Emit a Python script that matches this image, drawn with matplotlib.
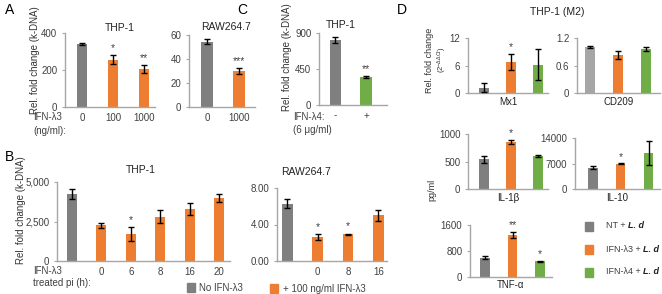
import matplotlib
matplotlib.use('Agg')
import matplotlib.pyplot as plt

plt.rcParams['font.family'] = ['Liberation Sans', 'DejaVu Sans']
plt.rcParams['font.size'] = 7
plt.rcParams['mathtext.fontset'] = 'custom'
plt.rcParams['mathtext.rm'] = 'Liberation Sans'
plt.rcParams['mathtext.it'] = 'Liberation Sans:italic'

GRAY = '#7f7f7f'
LGRAY = '#a6a6a6'
ORANGE = '#ed7d31'
GREEN = '#70ad47'
TXT = '#404040'

# ---- data ----
# A
a_thp_labels = ['0', '100', '1000']
a_thp_vals = [340, 255, 205]
a_thp_err = [4, 25, 20]
a_thp_sig = ['', '*', '**']

a_raw_labels = ['0', '1000']
a_raw_vals = [54.5, 30]
a_raw_err = [2, 2.5]
a_raw_sig = ['', '***']

# C
c_labels = ['-', '+']
c_vals = [810, 350]
c_err = [40, 15]
c_sig = ['', '**']

# B
b_thp_labels = ['', '0', '6', '8', '16', '20']
b_thp_vals = [4250, 2250, 1700, 2800, 3300, 4000]
b_thp_err = [300, 150, 450, 400, 400, 250]
b_thp_sig = ['', '', '*', '', '', '']

b_raw_labels = ['', '0', '8', '16']
b_raw_vals = [6.3, 2.65, 2.95, 5.0]
b_raw_err = [0.5, 0.3, 0.05, 0.6]
b_raw_sig = ['', '*', '*', '']

# D
mx1_vals = [1.2, 6.8, 6.2]
mx1_err = [1.0, 1.8, 3.3]
mx1_sig = ['', '*', '']

cd209_vals = [1.0, 0.83, 0.96]
cd209_err = [0.02, 0.08, 0.05]
cd209_sig = ['', '', '']

il1b_vals = [540, 850, 600]
il1b_err = [60, 40, 15]
il1b_sig = ['', '*', '']

il10_vals = [5900, 6900, 10000]
il10_err = [400, 150, 3300]
il10_sig = ['', '*', '']

tnf_vals = [600, 1300, 480]
tnf_err = [40, 90, 15]
tnf_sig = ['', '**', '*']

W, H = 662, 294
fig = plt.figure(figsize=(W / 100, H / 100), dpi=100)


def px_axes(x0, x1, ytop, ybot):
    return fig.add_axes([x0 / W, 1 - ybot / H, (x1 - x0) / W, (ybot - ytop) / H])


def ftext(x, y, s, **kw):
    return fig.text(x / W, 1 - y / H, s, **kw)


def bar_panel(ax, vals, err, colors, sig, ymax, yticks, yfmt, xlim, width, xlabels=None):
    xs = list(range(len(vals)))
    ax.bar(xs, vals, width=width, color=colors, zorder=2)
    ax.errorbar(xs, vals, yerr=err, fmt='none', ecolor='black', elinewidth=1,
                capsize=2, capthick=1, zorder=3)
    for x, v, e, s in zip(xs, vals, err, sig):
        if s:
            ax.text(x, v + e + ymax * 0.03, s, ha='center', va='bottom', fontsize=7.5, color=TXT)
    ax.set_ylim(0, ymax)
    ax.set_xlim(*xlim)
    ax.set_yticks(yticks)
    ax.set_yticklabels([yfmt(t) for t in yticks], color=TXT)
    if xlabels is None:
        ax.set_xticks([])
    else:
        ax.set_xticks(xs)
        ax.set_xticklabels(xlabels, color=TXT)
    for sp in ['top', 'right']:
        ax.spines[sp].set_visible(False)
    for sp in ['left', 'bottom']:
        ax.spines[sp].set_color('#a6a6a6')
        ax.spines[sp].set_linewidth(1)
    ax.tick_params(axis='x', length=0, pad=4)
    ax.tick_params(axis='y', length=2.5, width=0.8, color='#a6a6a6', pad=3)
    ax.patch.set_alpha(0)


def title(x, y, s):
    ftext(x, y, s, ha='center', va='center', fontsize=7.5, color='#222222')


# ---- Panel A ----
ax = px_axes(65, 155, 33, 107)
bar_panel(ax, a_thp_vals, a_thp_err, [GRAY, ORANGE, ORANGE], a_thp_sig, 400,
          [0, 200, 400], lambda t: f'{t:d}', (-0.55, 2.35), 0.34, a_thp_labels)
title(120, 28, 'THP-1')

ax = px_axes(189, 255, 35, 107)
bar_panel(ax, a_raw_vals, a_raw_err, [GRAY, ORANGE], a_raw_sig, 60,
          [0, 20, 40, 60], lambda t: f'{t:d}', (-0.58, 1.52), 0.38, a_raw_labels)
title(226, 27, 'RAW264.7')

ftext(35, 60, 'Rel. fold change (k-DNA)', rotation=90, ha='center', va='center', color='#333333')
ftext(33, 117, 'IFN-λ3', ha='left', va='center', color=TXT)
ftext(33, 131, '(ng/ml):', ha='left', va='center', color=TXT)

# ---- Panel C ----
ax = px_axes(319, 387, 33, 105)
bar_panel(ax, c_vals, c_err, [GRAY, GREEN], c_sig, 900,
          [0, 450, 900], lambda t: f'{t:d}', (-0.52, 1.68), 0.36, c_labels)
title(341, 25, 'THP-1')
ftext(287, 57, 'Rel. fold change (k-DNA)', rotation=90, ha='center', va='center', color='#333333')
ftext(293, 117, 'IFN-λ4:', ha='left', va='center', color=TXT)
ftext(293, 130, '(6 μg/ml)', ha='left', va='center', color=TXT)

# ---- Panel B ----
ax = px_axes(57, 230, 182, 261)
bar_panel(ax, b_thp_vals, b_thp_err, [GRAY] + [ORANGE] * 5, b_thp_sig, 5000,
          [0, 2500, 5000], lambda t: f'{t:,d}', (-0.51, 5.37), 0.34, b_thp_labels)
title(141, 170, 'THP-1')
ftext(21, 210, 'Rel. fold change (k-DNA)', rotation=90, ha='center', va='center', color='#333333')
ftext(33, 271, 'IFN-λ3', ha='left', va='center', color=TXT)
ftext(33, 283, 'treated pi (h):', ha='left', va='center', color=TXT)

ax = px_axes(277, 387, 188, 261)
bar_panel(ax, b_raw_vals, b_raw_err, [GRAY] + [ORANGE] * 3, b_raw_sig, 8,
          [0, 4, 8], lambda t: f'{t:.2f}', (-0.33, 3.28), 0.36, b_raw_labels)
title(306, 172, 'RAW264.7')

# legend B
lg = fig.add_axes([0, 0, 1, 1])
lg.set_xlim(0, W)
lg.set_ylim(H, 0)
lg.axis('off')
lg.add_patch(plt.Rectangle((187, 283), 8, 9, color=GRAY))
lg.text(199, 288, 'No IFN-λ3', va='center', ha='left', color=TXT)
lg.add_patch(plt.Rectangle((270, 284), 8, 9, color=ORANGE))
lg.text(283, 288.5, '+ 100 ng/ml IFN-λ3', va='center', ha='left', color=TXT)

# ---- Panel D ----
d_colors = [GRAY, ORANGE, GREEN]
ax = px_axes(468, 548, 38, 93)
bar_panel(ax, mx1_vals, mx1_err, d_colors, mx1_sig, 12, [0, 6, 12],
          lambda t: f'{t:d}', (-0.59, 2.37), 0.36)
ax.set_xlabel('Mx1', color='#222222', labelpad=3)

ax = px_axes(577, 660, 38, 93)
bar_panel(ax, cd209_vals, cd209_err, [LGRAY, ORANGE, GREEN], cd209_sig, 1.2, [0, 0.6, 1.2],
          lambda t: f'{t:g}', (-0.46, 2.5), 0.36)
ax.set_xlabel('CD209', color='#222222', labelpad=3)

ax = px_axes(468, 548, 134, 189)
bar_panel(ax, il1b_vals, il1b_err, d_colors, il1b_sig, 1000, [0, 500, 1000],
          lambda t: f'{t:d}', (-0.59, 2.37), 0.36)
ax.set_xlabel('IL-1β', color='#222222', labelpad=3)

ax = px_axes(575, 660, 138, 189)
bar_panel(ax, il10_vals, il10_err, d_colors, il10_sig, 14000, [0, 7000, 14000],
          lambda t: f'{t:d}', (-0.64, 2.4), 0.33)
ax.set_xlabel('IL-10', color='#222222', labelpad=3)

ax = px_axes(470, 552, 225, 277)
bar_panel(ax, tnf_vals, tnf_err, d_colors, tnf_sig, 1600, [0, 800, 1600],
          lambda t: f'{t:d}', (-0.55, 2.44), 0.34)
ax.set_xlabel('TNF-α', color='#222222', labelpad=2)

ftext(557, 12, 'THP-1 (M2)', ha='center', va='center', fontsize=7.5, color='#222222')
ftext(430, 60, 'Rel. fold change', rotation=90, ha='center', va='center',
      color='#333333', fontsize=6.5)
ftext(442, 60, r'(2$^{-\Delta\Delta Ct}$)', rotation=90, ha='center', va='center',
      color='#333333', fontsize=5.5)
ftext(432, 190, 'pg/ml', rotation=90, ha='center', va='center', color='#333333', fontsize=6.5)

# legend D
leg_labels = ['NT', 'IFN-λ3', 'IFN-λ4']
for lab, c, yc in zip(leg_labels, d_colors, [226, 249, 272]):
    lg.add_patch(plt.Rectangle((585, yc - 4.5), 8, 9, color=c))
    t = lg.text(606, yc, lab + ' + ', va='center', ha='left', color=TXT, fontsize=6.5)
    lg.annotate('L. d', xy=(1, 0.5), xycoords=t, va='center', ha='left', fontsize=6.5,
                fontweight='bold', fontstyle='italic', color='#222222')

# panel letters
ftext(5, 10, 'A', fontsize=10, va='center', ha='left')
ftext(5, 157, 'B', fontsize=10, va='center', ha='left')
ftext(237, 10, 'C', fontsize=10, va='center', ha='left')
ftext(397, 10, 'D', fontsize=10, va='center', ha='left')

fig.savefig('out.png', dpi=100)
